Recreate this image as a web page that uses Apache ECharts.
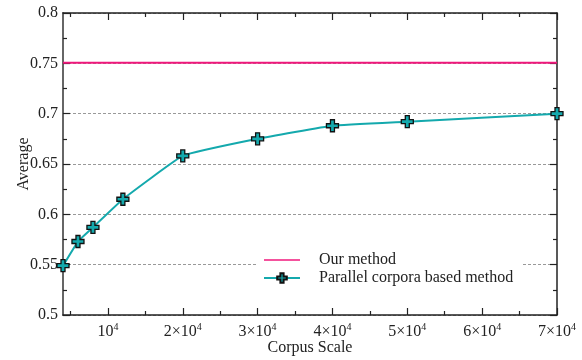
<!DOCTYPE html>
<html>
<head>
<meta charset="utf-8">
<script src="https://cdn.jsdelivr.net/npm/echarts@6/dist/echarts.min.js"></script>
<style>
  html, body { margin: 0; padding: 0; background: #fff; }
  #chart { width: 582px; height: 360px; }
</style>
</head>
<body>
<div id="chart"></div>
<script>
// data
var corpusSizes = [4000, 6000, 8000, 12000, 20000, 30000, 40000, 50000, 70000];
var parallelAvg = [0.549, 0.573, 0.587, 0.615, 0.658, 0.675, 0.688, 0.692, 0.700];
var ourMethodX = [4000, 70000];
var ourMethodAvg = [0.7505, 0.7505];
var majorXTicks = [10000, 20000, 30000, 40000, 50000, 60000, 70000];
var minorXTicks = [5000, 15000, 25000, 35000, 45000, 55000, 65000];

var serif = 'Liberation Serif';
var pink = '#f0187c';
var teal = '#14a9ad';
var plusPath = 'path://M4,0 L8,0 L8,4 L12,4 L12,8 L8,8 L8,12 L4,12 L4,8 L0,8 L0,4 L4,4 Z';
var lineIcon = 'path://M0,0 L50,0 L50,2 L0,2 Z';

var chart = echarts.init(document.getElementById('chart'));

function xLabel(v) {
  var k = Math.round(v / 10000);
  return k === 1 ? '{b|10}{s|4}' : '{b|' + k + '×10}{s|4}';
}

function xAxisCfg(pos, ticks, len, showLabel, showLine) {
  return {
    type: 'value', position: pos, min: 4000, max: 70000,
    axisLine: { show: showLine, lineStyle: { color: '#222', width: 1.5 } },
    axisTick: { show: true, inside: true, length: len, customValues: ticks,
      lineStyle: { color: '#222', width: 1.2 } },
    axisLabel: showLabel ? {
      customValues: ticks, margin: 7, color: '#222',
      formatter: xLabel,
      rich: {
        b: { fontFamily: serif, fontSize: 16, color: '#222' },
        s: { fontFamily: serif, fontSize: 10, color: '#222', verticalAlign: 'top', padding: [0, 0, 9, 0] }
      }
    } : { show: false },
    splitLine: { show: false }
  };
}

var bottomMajor = xAxisCfg('bottom', majorXTicks, 7, true, true);
bottomMajor.name = 'Corpus Scale';
bottomMajor.nameLocation = 'middle';
bottomMajor.nameGap = 25;
bottomMajor.nameMoveOverlap = false;
bottomMajor.nameTextStyle = { fontFamily: serif, fontSize: 16, color: '#222', verticalAlign: 'top' };

var option = {
  animation: false,
  backgroundColor: '#fff',
  grid: { left: 63, right: 25, top: 13, bottom: 45, containLabel: false, outerBoundsMode: 'none' },
  legend: {
    orient: 'vertical',
    left: 257, top: 246,
    backgroundColor: '#fff',
    padding: [6, 8, 6, 6],
    itemWidth: 36, itemHeight: 12, itemGap: 2,
    textStyle: { fontFamily: serif, fontSize: 16, color: '#222', padding: [0, 0, 0, 14] },
    data: [
      { name: 'Our method', icon: lineIcon },
      'Parallel corpora based method'
    ]
  },
  xAxis: [
    bottomMajor,
    xAxisCfg('bottom', minorXTicks, 4, false, false),
    xAxisCfg('top', majorXTicks, 7, false, true),
    xAxisCfg('top', minorXTicks, 4, false, false)
  ],
  yAxis: [
    {
      type: 'value', min: 0.5, max: 0.8, interval: 0.05, position: 'left',
      name: 'Average', nameLocation: 'middle', nameGap: 31, nameMoveOverlap: false,
      nameTextStyle: { fontFamily: serif, fontSize: 16, color: '#222' },
      axisLine: { show: true, lineStyle: { color: '#666', width: 2 } },
      axisTick: { inside: true, length: 7, lineStyle: { color: '#222', width: 1.2 } },
      minorTick: { show: true, splitNumber: 2, length: 4, lineStyle: { color: '#222', width: 1.2 } },
      axisLabel: { fontFamily: serif, fontSize: 16, color: '#222', margin: 5,
        formatter: function (v) { return String(+v.toFixed(2)); } },
      splitLine: { show: true, lineStyle: { color: '#999', type: [3, 2], width: 1 } }
    },
    {
      type: 'value', min: 0.5, max: 0.8, interval: 0.05, position: 'right',
      axisLine: { show: true, lineStyle: { color: '#222', width: 1.5 } },
      axisTick: { inside: true, length: 7, lineStyle: { color: '#222', width: 1.2 } },
      minorTick: { show: true, splitNumber: 2, length: 4, lineStyle: { color: '#222', width: 1.2 } },
      axisLabel: { show: false },
      splitLine: { show: false }
    }
  ],
  series: [
    {
      name: 'Our method', type: 'line',
      data: ourMethodX.map(function (x, i) { return [x, ourMethodAvg[i]]; }),
      showSymbol: false, symbol: 'none',
      lineStyle: { color: pink, width: 2 },
      itemStyle: { color: pink }
    },
    {
      name: 'Parallel corpora based method', type: 'line', smooth: 0.1,
      data: corpusSizes.map(function (x, i) { return [x, parallelAvg[i]]; }),
      symbol: plusPath, symbolSize: 12,
      lineStyle: { color: teal, width: 2 },
      itemStyle: { color: teal, borderColor: '#111', borderWidth: 1.3 }
    }
  ]
};

chart.setOption(option);
</script>
</body>
</html>
